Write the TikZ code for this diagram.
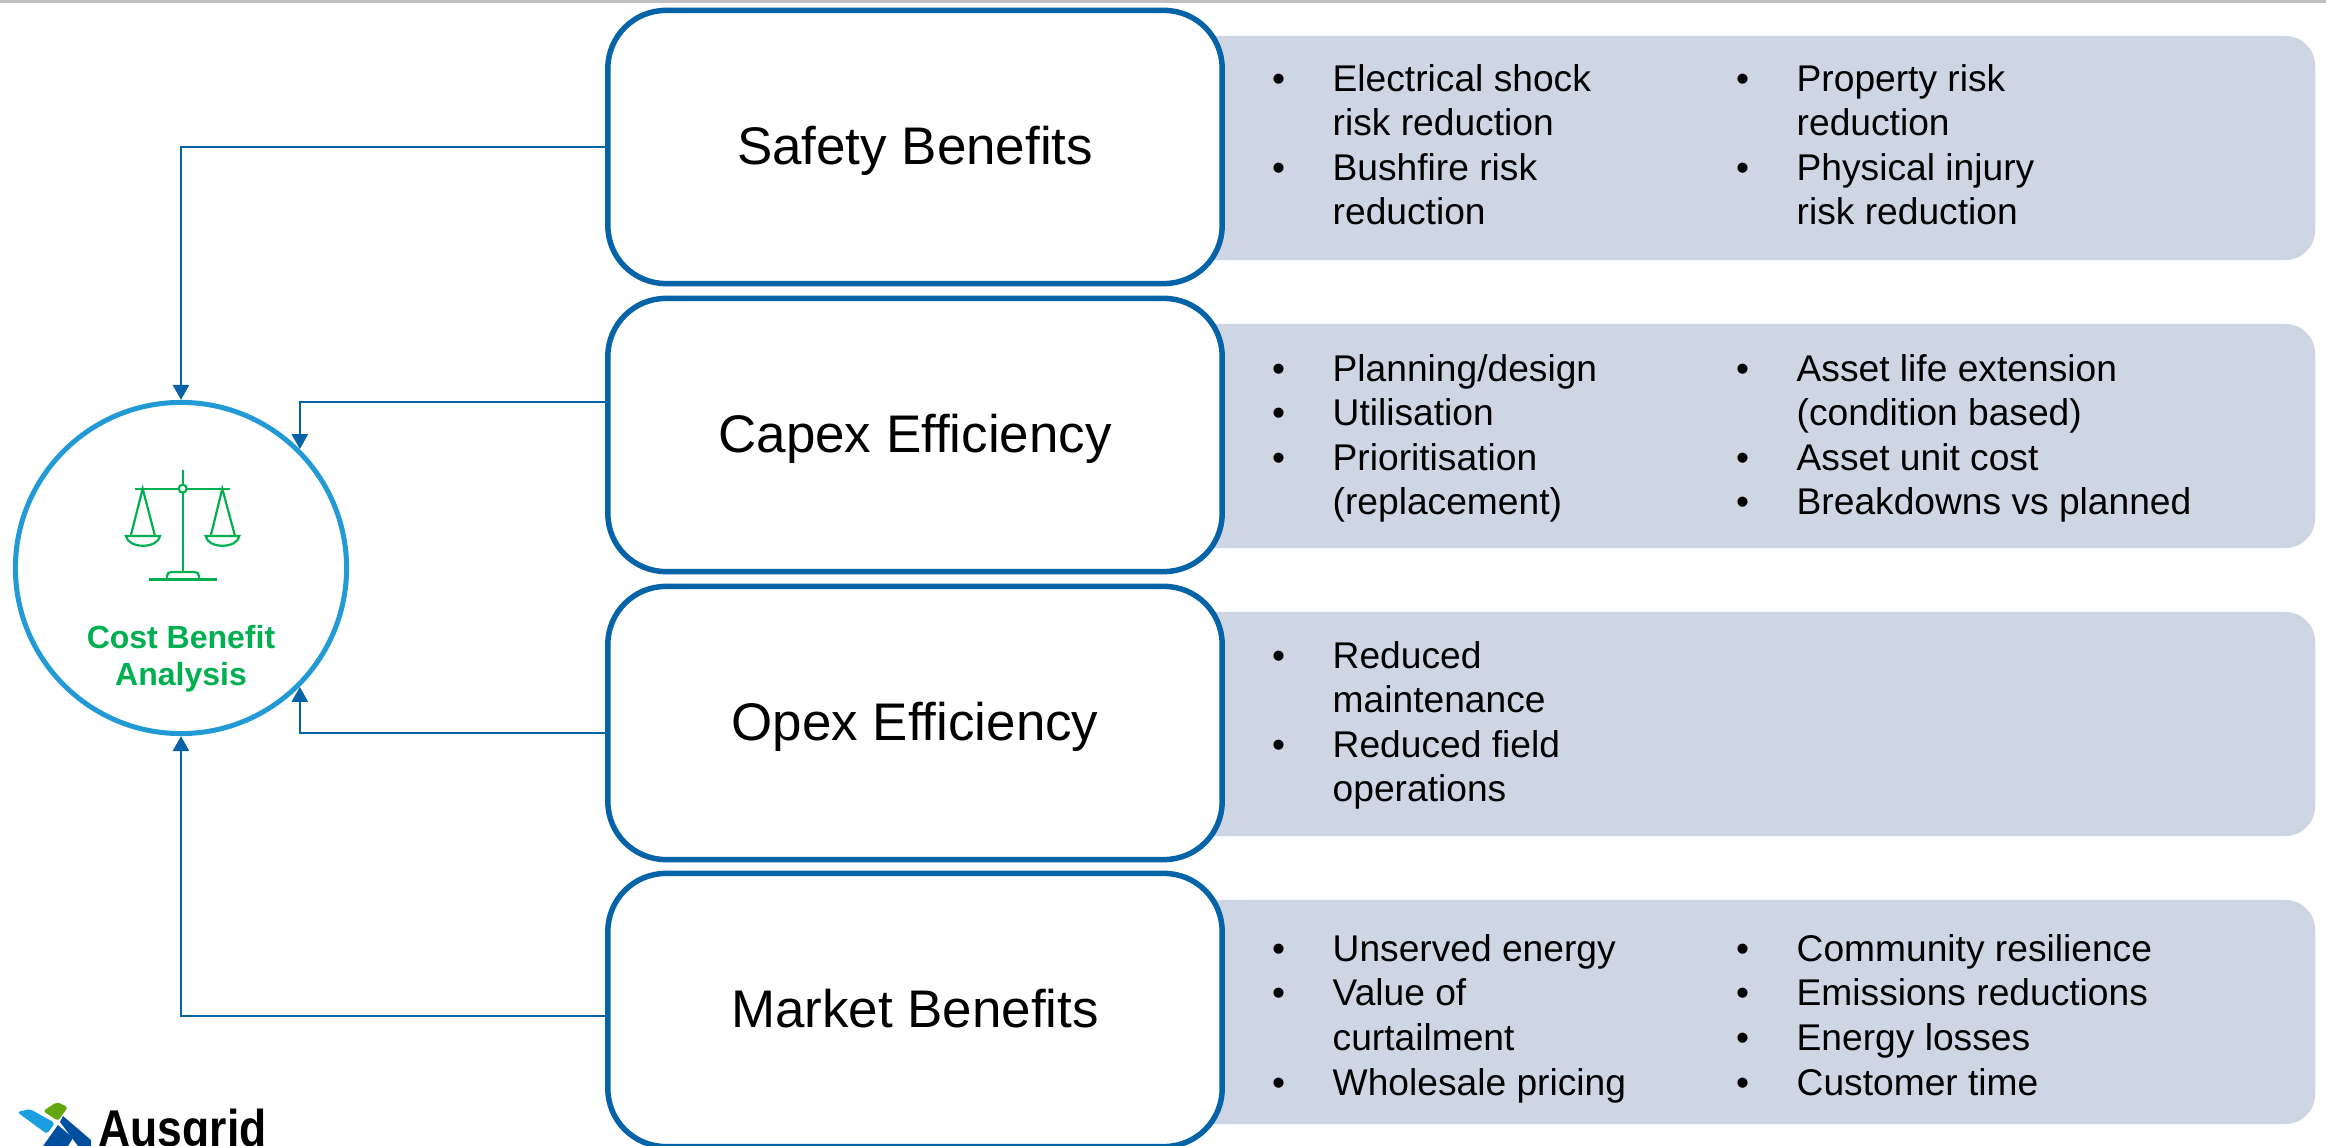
\documentclass[tikz,border=0pt]{standalone}
\usepackage{fontspec}
\setmainfont{Liberation Sans}
\usepackage{tikz}
\usetikzlibrary{arrows.meta}
\definecolor{BoxBlue}{HTML}{0563A8}
\definecolor{RingBlue}{HTML}{219AD5}
\definecolor{BarGrey}{HTML}{CED6E4}
\definecolor{RuleGrey}{HTML}{BFBFBF}
\definecolor{ScaleGreen}{HTML}{00B050}
\definecolor{LogoLight}{HTML}{1C9FE0}
\definecolor{LogoGreen}{HTML}{62A70F}
\definecolor{LogoDark}{HTML}{004F9E}
\newcommand{\blt}{\llap{\hbox to 0.605cm{\textbullet\hss}}}
\tikzset{
  benefit/.style={draw=BoxBlue, line width=0.055cm, fill=white, rounded corners=0.58cm,
    minimum width=6.14cm, minimum height=2.73cm, inner sep=0pt,
    text height=0.39cm, text depth=0.04cm,
    font=\fontsize{15.05}{18}\selectfont},
  bar/.style={fill=BarGrey, rounded corners=0.3cm, minimum width=12cm, minimum height=2.24cm,
    anchor=east, inner sep=0pt},
  points/.style={anchor=base west, align=left, inner sep=0pt,
    font=\fontsize{10.57}{12.7}\selectfont},
  link/.style={BoxBlue, line width=0.027cm, -{Triangle[length=0.15cm,width=0.16cm]}},
  beam/.style={ScaleGreen, line width=0.022cm}
}
\begin{document}
\begin{tikzpicture}[x=0.01cm,y=-0.01cm]
  \useasboundingbox (0,0) rectangle (2326,1146);
  \fill[RuleGrey] (0,0) rectangle (2326,3);

  \foreach \y/\name in {148/barsafety,436/barcapex,724/baropex,1012/barmarket}
    \node[bar] (\name) at (2316,\y) {};

  \node[benefit] (safety) at (915,147) {Safety Benefits};
  \node[benefit] (capex) at (915,435) {Capex Efficiency};
  \node[benefit] (opex) at (915,723) {Opex Efficiency};
  \node[benefit] (market) at (915,1010) {Market Benefits};

  \node[points] (safetyleft) at (1332,225) {\blt Electrical shock\\risk reduction\\\blt Bushfire risk\\reduction};
  \node[points] (safetyright) at (1796,225) {\blt Property risk\\reduction\\\blt Physical injury\\risk reduction};
  \node[points] (capexleft) at (1332,515) {\blt Planning/design\\\blt Utilisation\\\blt Prioritisation\\(replacement)};
  \node[points] (capexright) at (1796,515) {\blt Asset life extension\\(condition based)\\\blt Asset unit cost\\\blt Breakdowns vs planned};
  \node[points] (opexleft) at (1332,802) {\blt Reduced\\maintenance\\\blt Reduced field\\operations};
  \node[points] (marketleft) at (1332,1095) {\blt Unserved energy\\\blt Value of\\curtailment\\\blt Wholesale pricing};
  \node[points] (marketright) at (1796,1095) {\blt Community resilience\\\blt Emissions reductions\\\blt Energy losses\\\blt Customer time};

  \node[circle, draw=RingBlue, line width=0.05cm, minimum size=3.31cm, inner sep=0pt] (cba) at (181,568) {};
  \node[ScaleGreen, anchor=base, align=center, inner sep=0pt, font=\bfseries\fontsize{9.1}{10.8}\selectfont] (cbatext) at (181,686) {Cost Benefit\\Analysis};

  \draw[link] (safety.west) -| (cba.north);
  \draw[link] ([yshift=0.33cm]capex.west) -| (cba.45);
  \draw[link] ([yshift=-0.1cm]opex.west) -| (cba.-45);
  \draw[link] ([yshift=-0.06cm]market.west) -| (cba.south);

  \draw[beam] (182.7,470) -- (182.7,484.7);
  \draw[beam] (182.7,492.7) -- (182.7,572);
  \draw[beam] (135,488.7) -- (178.7,488.7) (186.7,488.7) -- (230,488.7);
  \draw[beam] (182.7,488.7) circle[radius=4];
  \draw[beam] (130.7,536) -- (142.7,488.7) -- (155,536);
  \draw[beam] (210.7,536) -- (222.3,488.7) -- (235,536);
  \draw[beam] (126,536) -- (160,536) .. controls (158,549) and (128,549) .. cycle;
  \draw[beam] (205.7,536) -- (239.3,536) .. controls (237.3,549) and (207.7,549) .. cycle;
  \draw[beam, line width=0.03cm] (149,579.3) -- (217,579.3);
  \draw[beam] (167,578) -- (167,576) .. controls (167,573) and (169,572) .. (172,572) -- (194,572) .. controls (197,572) and (199,573) .. (199,576) -- (199,578);

  \fill[LogoLight, rounded corners=0.03cm] (17,1112) -- (30,1109) -- (55,1123) -- (47,1134) -- cycle;
  \fill[LogoGreen, rounded corners=0.03cm] (43,1111) -- (57,1102) -- (68,1107) -- (58,1121) -- cycle;
  \fill[LogoDark] (58,1125) -- (73,1138) -- (68,1146) -- (43,1146) -- cycle;
  \fill[LogoDark] (63,1116) -- (91,1140) -- (91,1146) -- (78,1146) -- (60,1122) -- cycle;
  \node[anchor=base west, inner sep=0pt, xscale=0.86, font=\bfseries\fontsize{14.7}{16}\selectfont] (logotext) at (98,1146) {Ausgrid};
\end{tikzpicture}
\end{document}
